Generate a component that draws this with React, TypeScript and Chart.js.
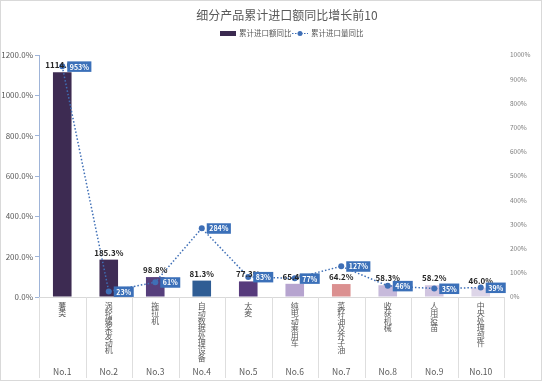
import React, { useEffect, useRef } from 'react';
import { Chart, registerables } from 'chart.js';

Chart.register(...registerables);

const titleText = '细分产品累计进口额同比增长前10';
const seriesNames = ['累计进口额同比', '累计进口量同比'];
const categories = ['薯类', '涡轮螺桨发动机', '拖拉机', '自动数据处理设备', '大麦', '纯电动乘用车', '菜籽油及芥子油', '收获机械', '人用疫苗', '中央处理部件'];
const rankLabels = ['No.1', 'No.2', 'No.3', 'No.4', 'No.5', 'No.6', 'No.7', 'No.8', 'No.9', 'No.10'];
const amountYoY = [1114.6, 185.3, 98.8, 81.3, 77.3, 65.4, 64.2, 58.3, 58.2, 46.0];
const volumeYoY = [953, 23, 61, 284, 83, 77, 127, 46, 35, 39];
const barColors = ['#3d2b52', '#3e2c55', '#563f7c', '#2f5d94', '#573b7c', '#b6a4cf', '#db9090', '#c7badb', '#d1c5e0', '#ddd5e8'];

const FONT = '"Noto Sans CJK SC", "Noto Sans", sans-serif';
const LINE_BLUE = '#3f6fb6';

const customPlugin = {
  id: 'customDecor',
  afterDatasetsDraw(chart: any) {
    const ctx = chart.ctx;
    ctx.save();
    // bar labels
    const barMeta = chart.getDatasetMeta(0);
    ctx.font = `bold 8px ${FONT}`;
    ctx.fillStyle = '#262626';
    ctx.textAlign = 'center';
    ctx.textBaseline = 'bottom';
    barMeta.data.forEach((el: any, i: number) => {
      ctx.fillText(amountYoY[i].toFixed(1) + '%', el.x, el.y - 3);
    });
    // line labels
    const lineMeta = chart.getDatasetMeta(1);
    ctx.font = `bold 7px ${FONT}`;
    ctx.textAlign = 'left';
    ctx.textBaseline = 'middle';
    lineMeta.data.forEach((el: any, i: number) => {
      const txt = volumeYoY[i] + '%';
      const w = ctx.measureText(txt).width + 5;
      const bx = el.x + 5;
      const by = el.y - 5;
      ctx.fillStyle = '#3b70b9';
      ctx.fillRect(bx, by, w, 10.5);
      ctx.fillStyle = '#ffffff';
      ctx.fillText(txt, bx + 2.5, el.y + 0.5);
    });
    ctx.restore();
  },
  afterDraw(chart: any) {
    const ctx = chart.ctx;
    ctx.save();
    // category separators
    const xs = chart.scales.x;
    const n = categories.length;
    ctx.strokeStyle = '#dedede';
    ctx.lineWidth = 1;
    for (let i = 0; i <= n; i++) {
      const x = Math.round(xs.left + (i * xs.width) / n) + 0.5;
      ctx.beginPath();
      ctx.moveTo(x, xs.top);
      ctx.lineTo(x, xs.top + 81);
      ctx.stroke();
    }
    // title
    ctx.fillStyle = '#595959';
    ctx.font = `12px ${FONT}`;
    ctx.textAlign = 'center';
    ctx.textBaseline = 'middle';
    ctx.fillText(titleText, 287, 15);
    // legend
    ctx.fillStyle = '#3b2a50';
    ctx.fillRect(220, 31, 16, 5);
    ctx.fillStyle = '#595959';
    ctx.font = `7.5px ${FONT}`;
    ctx.textAlign = 'left';
    ctx.fillText(seriesNames[0], 239, 33.5);
    ctx.strokeStyle = LINE_BLUE;
    ctx.setLineDash([1.5, 1.5]);
    ctx.lineWidth = 1.2;
    ctx.beginPath();
    ctx.moveTo(292, 33.5);
    ctx.lineTo(308, 33.5);
    ctx.stroke();
    ctx.setLineDash([]);
    ctx.fillStyle = LINE_BLUE;
    ctx.beginPath();
    ctx.arc(300, 33.5, 2.5, 0, Math.PI * 2);
    ctx.fill();
    ctx.fillStyle = '#595959';
    ctx.fillText(seriesNames[1], 311, 33.5);
    // outer border
    ctx.strokeStyle = '#d9d9d9';
    ctx.lineWidth = 1;
    ctx.strokeRect(0.5, 0.5, chart.width - 1, chart.height - 1);
    ctx.restore();
  },
};

export default function App() {
  const ref = useRef<HTMLCanvasElement>(null);
  useEffect(() => {
    document.body.style.margin = '0';
    const canvas = ref.current!;
    const chart = new Chart(canvas, {
      type: 'bar',
      data: {
        labels: categories,
        datasets: [
          {
            type: 'bar',
            label: seriesNames[0],
            data: amountYoY,
            backgroundColor: barColors,
            borderWidth: 0,
            barPercentage: 0.4,
            categoryPercentage: 1,
            yAxisID: 'y',
            xAxisID: 'x',
            order: 1,
          },
          {
            type: 'line',
            label: seriesNames[1],
            data: volumeYoY,
            borderColor: LINE_BLUE,
            borderWidth: 1.5,
            borderDash: [1.5, 2],
            pointRadius: 3,
            pointBackgroundColor: LINE_BLUE,
            pointBorderWidth: 0,
            fill: false,
            tension: 0,
            yAxisID: 'y1',
            xAxisID: 'x',
            order: 0,
          } as any,
        ],
      },
      options: {
        responsive: false,
        animation: false,
        devicePixelRatio: 1,
        layout: { padding: { top: 55, bottom: 3, left: 0, right: 0 } },
        plugins: {
          legend: { display: false },
          title: { display: false },
          tooltip: { enabled: false },
        },
        scales: {
          x: {
            type: 'category',
            position: 'bottom',
            weight: 0,
            offset: true,
            grid: { display: false, drawTicks: false },
            border: { display: true, color: '#d9d9d9' },
            ticks: {
              autoSkip: false,
              maxRotation: 0,
              minRotation: 0,
              padding: 5,
              color: '#595959',
              font: { family: FONT, size: 8, lineHeight: 0.93 },
              callback: (_v: any, i: number) => categories[i].split(''),
            },
            afterFit: (s: any) => { s.height = 66; },
          },
          x2: {
            type: 'category',
            position: 'bottom',
            weight: 1,
            offset: true,
            labels: rankLabels,
            grid: { display: false, drawTicks: false },
            border: { display: false },
            ticks: {
              autoSkip: false,
              maxRotation: 0,
              padding: 4,
              color: '#595959',
              font: { family: FONT, size: 8.5 },
            },
            afterFit: (s: any) => { s.height = 15; },
          },
          y: {
            position: 'left',
            min: 0,
            max: 1200,
            grid: { display: true, drawOnChartArea: false, drawTicks: true, tickLength: 4, color: '#9fb4d8' },
            border: { display: true, color: '#9fb4d8' },
            ticks: {
              stepSize: 200,
              padding: 2,
              color: '#595959',
              font: { family: FONT, size: 8 },
              callback: (v: any) => Number(v).toFixed(1) + '%',
            },
            afterFit: (s: any) => { s.width = 39; },
          },
          y1: {
            position: 'right',
            min: 0,
            max: 1000,
            grid: { display: false, drawTicks: false },
            border: { display: false },
            ticks: {
              stepSize: 100,
              padding: 6,
              color: '#7f7f7f',
              font: { family: FONT, size: 6.5 },
              callback: (v: any) => v + '%',
            },
            afterFit: (s: any) => { s.width = 38; },
          },
        },
      },
      plugins: [customPlugin],
    });
    return () => chart.destroy();
  }, []);
  return (
    <div style={{ width: 542, height: 381, position: 'relative', background: '#ffffff' }}>
      <canvas ref={ref} width={542} height={381} style={{ display: 'block', width: 542, height: 381 }} />
    </div>
  );
}
